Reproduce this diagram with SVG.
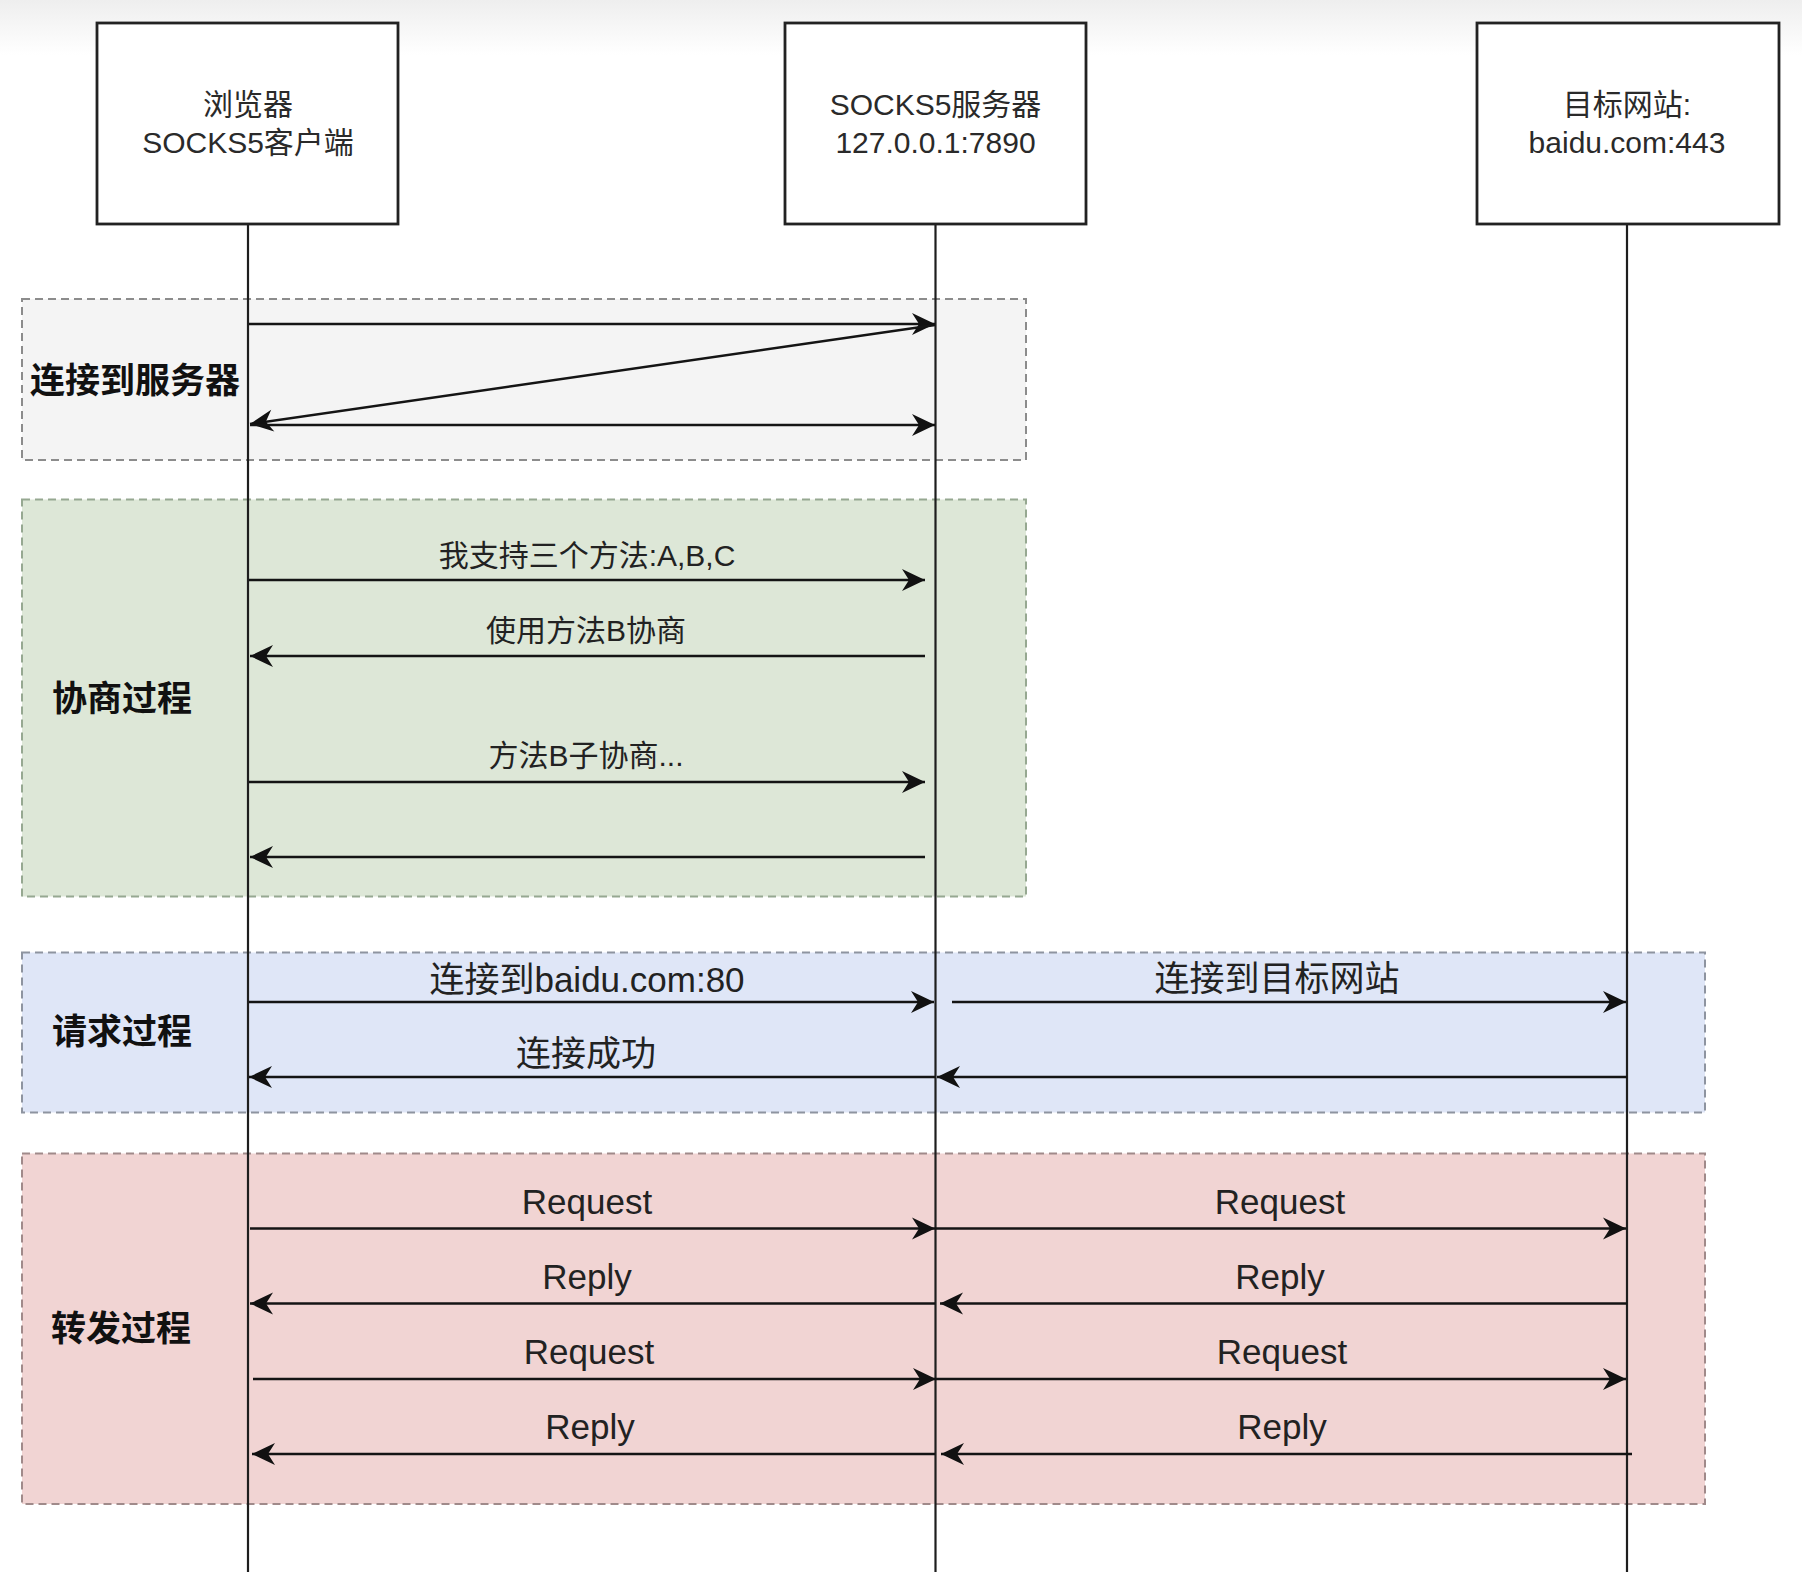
<svg xmlns="http://www.w3.org/2000/svg" width="1802" height="1572" viewBox="0 0 1802 1572">
<defs>
<linearGradient id="topfade" x1="0" y1="0" x2="0" y2="1">
<stop offset="0" stop-color="#eeeeee"/>
<stop offset="1" stop-color="#ffffff"/>
</linearGradient>
<marker id="arr" markerUnits="userSpaceOnUse" markerWidth="1" markerHeight="1" refX="0" refY="0" orient="auto" overflow="visible">
<path d="M0,0 L-23,-11 L-16,0 L-23,11 Z" fill="#111111" stroke="none"/>
</marker>
</defs>
<style>
.sec{stroke-width:2;stroke-dasharray:8 5}
.life{stroke:#1e1e1e;stroke-width:2.2;fill:none}
.actor{fill:#ffffff;stroke:#222222;stroke-width:2.8}
.msg{stroke:#141414;stroke-width:2.5;fill:none;marker-end:url(#arr)}
text{font-family:"Liberation Sans","Noto Sans CJK SC",sans-serif;fill:#222222}
.at{font-size:30px;text-anchor:middle;fill:#2a2a2a}
.lb{font-size:30px;text-anchor:middle}
.lb2{font-size:35px;text-anchor:middle}
.st{font-size:35px;font-weight:700;fill:#111111}
</style>
<rect x="0" y="0" width="1802" height="1572" fill="#ffffff"/>
<rect x="0" y="0" width="1802" height="55" fill="url(#topfade)"/>

<g id="sections">
<g id="sec-connect">
<rect class="sec" x="22" y="299" width="1004" height="161" fill="#f4f4f4" stroke="#8c8c8c"/>
<text class="st" x="30" y="393">连接到服务器</text>
</g>
<g id="sec-negotiate">
<rect class="sec" x="22" y="499.5" width="1004" height="397" fill="#dde7d7" stroke="#96a891"/>
<text class="st" x="52" y="711">协商过程</text>
</g>
<g id="sec-request">
<rect class="sec" x="22" y="952.5" width="1683" height="160" fill="#dfe6f7" stroke="#8e94a0"/>
<text class="st" x="52" y="1044">请求过程</text>
</g>
<g id="sec-forward">
<rect class="sec" x="22" y="1153.5" width="1683" height="350.5" fill="#f1d4d3" stroke="#a08a8a"/>
<text class="st" x="51" y="1341">转发过程</text>
</g>
</g>

<g id="lifelines">
<line class="life" x1="248" y1="224" x2="248" y2="1572"/>
<line class="life" x1="935.5" y1="224" x2="935.5" y2="1572"/>
<line class="life" x1="1627" y1="224" x2="1627" y2="1572"/>
</g>

<g id="client">
<rect class="actor" x="97" y="23" width="301" height="201"/>
<text class="at" x="248" y="115">浏览器</text>
<text class="at" x="248" y="152.5">SOCKS5客户端</text>
</g>
<g id="server">
<rect class="actor" x="785" y="23" width="301" height="201"/>
<text class="at" x="935.5" y="115">SOCKS5服务器</text>
<text class="at" x="935.5" y="152.5">127.0.0.1:7890</text>
</g>
<g id="target">
<rect class="actor" x="1477" y="23" width="302" height="201"/>
<text class="at" x="1627" y="115">目标网站:</text>
<text class="at" x="1627" y="152.5">baidu.com:443</text>
</g>

<g id="connectors">
<line class="msg" x1="249" y1="324" x2="935" y2="324"/>
<line class="msg" x1="935" y1="325" x2="250" y2="424"/>
<line class="msg" x1="250" y1="425" x2="935" y2="425"/>
<line class="msg" x1="249" y1="580" x2="925" y2="580"/>
<line class="msg" x1="925" y1="656" x2="250" y2="656"/>
<line class="msg" x1="249" y1="782" x2="925" y2="782"/>
<line class="msg" x1="925" y1="857" x2="250" y2="857"/>
<line class="msg" x1="249" y1="1002" x2="934" y2="1002"/>
<line class="msg" x1="952" y1="1002" x2="1626" y2="1002"/>
<line class="msg" x1="1627" y1="1077" x2="937" y2="1077"/>
<line class="msg" x1="935" y1="1077" x2="249" y2="1077"/>
<line class="msg" x1="250" y1="1228.5" x2="935" y2="1228.5"/>
<line class="msg" x1="935" y1="1228.5" x2="1626" y2="1228.5"/>
<line class="msg" x1="1627" y1="1303.5" x2="940" y2="1303.5"/>
<line class="msg" x1="935" y1="1303.5" x2="250" y2="1303.5"/>
<line class="msg" x1="253" y1="1379" x2="936" y2="1379"/>
<line class="msg" x1="936" y1="1379" x2="1626" y2="1379"/>
<line class="msg" x1="1632" y1="1454" x2="941" y2="1454"/>
<line class="msg" x1="935" y1="1454" x2="252" y2="1454"/>
</g>

<g id="labels">
<text class="lb" x="587" y="566">我支持三个方法:A,B,C</text>
<text class="lb" x="586" y="641">使用方法B协商</text>
<text class="lb" x="586" y="766">方法B子协商...</text>
<text class="lb2" x="587" y="992">连接到baidu.com:80</text>
<text class="lb2" x="1277" y="991">连接到目标网站</text>
<text class="lb2" x="586" y="1066">连接成功</text>
<text class="lb2" x="587" y="1214">Request</text>
<text class="lb2" x="1280" y="1214">Request</text>
<text class="lb2" x="587" y="1289">Reply</text>
<text class="lb2" x="1280" y="1289">Reply</text>
<text class="lb2" x="589" y="1364">Request</text>
<text class="lb2" x="1282" y="1364">Request</text>
<text class="lb2" x="590" y="1439">Reply</text>
<text class="lb2" x="1282" y="1439">Reply</text>
</g>
</svg>
